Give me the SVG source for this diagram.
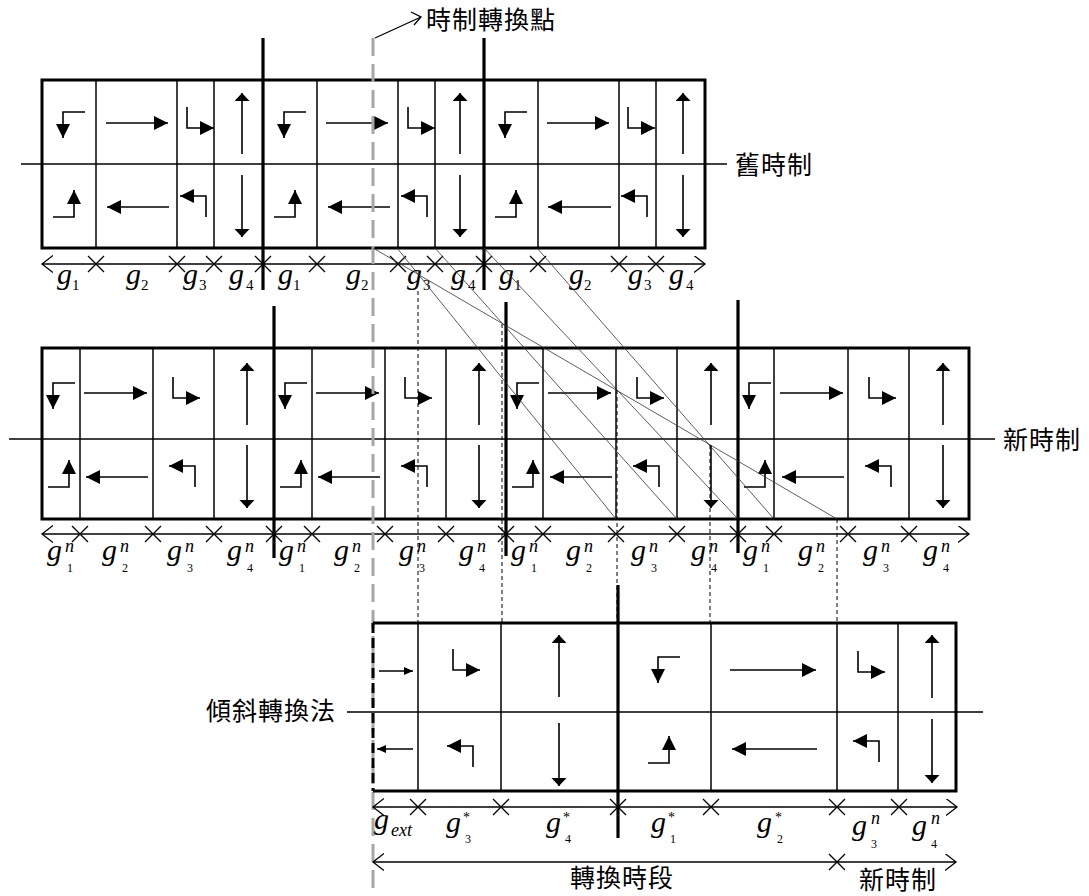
<svg xmlns="http://www.w3.org/2000/svg" width="1089" height="896" viewBox="0 0 1089 896">
<defs>
<style>
.box{fill:none;stroke:#000;stroke-width:3}
.dv{stroke:#000;stroke-width:1.5}
.tk{stroke:#000;stroke-width:3.2}
.mid{stroke:#000;stroke-width:1.3}
.tl{stroke:#000;stroke-width:1.3;fill:none}
.ic{stroke:#000;stroke-width:1.6;fill:none}
.diag{stroke:#333;stroke-width:0.8}
.dsh{stroke:#000;stroke-width:1;stroke-dasharray:4 3}
.grey{stroke:#a6a6a6;stroke-width:3;stroke-dasharray:18 8;fill:none}
.g{font-family:"Liberation Serif",serif;font-style:italic;font-size:30px;fill:#000}
.sub{font-family:"Liberation Serif",serif;font-size:15px;fill:#000}
.sup{font-family:"Liberation Serif",serif;font-style:italic;font-size:18px;fill:#000}
.sm{font-family:"Liberation Serif",serif;font-size:12px;fill:#000}
.st{font-family:"Liberation Serif",serif;font-size:14px;fill:#000}
.cjk{font-family:"Liberation Serif","Noto Sans CJK TC",sans-serif;font-size:25px;fill:#000;letter-spacing:1px}
</style>
<marker id="ah" markerUnits="userSpaceOnUse" markerWidth="16" markerHeight="15" refX="14" refY="7" orient="auto"><path d="M0,0 L14,7 L0,14 z" fill="#000"/></marker>
<marker id="ahf" markerUnits="userSpaceOnUse" markerWidth="10" markerHeight="16" refX="8" refY="7.5" orient="auto"><path d="M0,0 L8,7.5 L0,15 z" fill="#000"/></marker>
<marker id="ahs" markerUnits="userSpaceOnUse" markerWidth="10" markerHeight="9" refX="9" refY="4" orient="auto"><path d="M0,0 L9,4 L0,8 z" fill="#000"/></marker>
<marker id="chev" markerUnits="userSpaceOnUse" markerWidth="13" markerHeight="19" refX="11" refY="8.5" orient="auto-start-reverse"><path d="M0,0 L11,8.5 L0,17" fill="none" stroke="#000" stroke-width="1.3"/></marker>
<path id="xm" d="M-8,-8 L8,8 M-8,8 L8,-8" stroke="#000" stroke-width="1.3"/>
<path id="ltU" class="ic" d="M22,0 H0 V26" marker-end="url(#ah)"/>
<path id="ltL" class="ic" d="M-21,0 H0 V-27" marker-end="url(#ah)"/>
<path id="rtU" class="ic" d="M0,-21 V0 H27" marker-end="url(#ah)"/>
<path id="rtL" class="ic" d="M0,21 V0 H-26" marker-end="url(#ah)"/>
</defs>
<rect width="1089" height="896" fill="#fff"/>

<g id="old-plan">
<line class="mid" x1="21" y1="164" x2="727" y2="164"/>
<rect class="box" x="42" y="80" width="663" height="168"/>
<g class="dv">
<line x1="96" y1="80" x2="96" y2="248"/><line x1="177" y1="80" x2="177" y2="248"/><line x1="214" y1="80" x2="214" y2="248"/>
<line x1="317" y1="80" x2="317" y2="248"/><line x1="398" y1="80" x2="398" y2="248"/><line x1="435" y1="80" x2="435" y2="248"/>
<line x1="538" y1="80" x2="538" y2="248"/><line x1="619" y1="80" x2="619" y2="248"/><line x1="656" y1="80" x2="656" y2="248"/>
</g>
<line class="tk" x1="263" y1="38" x2="263" y2="290"/>
<line class="tk" x1="484" y1="38" x2="484" y2="290"/>
<use href="#ltU" x="63" y="112"/><use href="#ltL" x="74" y="217"/>
<line class="ic" x1="106" y1="123" x2="168" y2="123" marker-end="url(#ah)"/>
<line class="ic" x1="169" y1="207" x2="107" y2="207" marker-end="url(#ah)"/>
<use href="#rtU" x="187" y="128"/><use href="#rtL" x="206" y="196"/>
<line class="ic" x1="242" y1="154" x2="242" y2="93" marker-end="url(#ahf)"/>
<line class="ic" x1="242" y1="175" x2="242" y2="237" marker-end="url(#ahf)"/>
<use href="#ltU" x="284" y="112"/><use href="#ltL" x="295" y="217"/>
<line class="ic" x1="326" y1="123" x2="388" y2="123" marker-end="url(#ah)"/>
<line class="ic" x1="390" y1="207" x2="328" y2="207" marker-end="url(#ah)"/>
<use href="#rtU" x="408" y="128"/><use href="#rtL" x="427" y="196"/>
<line class="ic" x1="460" y1="154" x2="460" y2="93" marker-end="url(#ahf)"/>
<line class="ic" x1="460" y1="175" x2="460" y2="237" marker-end="url(#ahf)"/>
<use href="#ltU" x="505" y="112"/><use href="#ltL" x="516" y="217"/>
<line class="ic" x1="547" y1="123" x2="609" y2="123" marker-end="url(#ah)"/>
<line class="ic" x1="611" y1="207" x2="548" y2="207" marker-end="url(#ah)"/>
<use href="#rtU" x="628" y="128"/><use href="#rtL" x="647" y="196"/>
<line class="ic" x1="683" y1="154" x2="683" y2="93" marker-end="url(#ahf)"/>
<line class="ic" x1="683" y1="175" x2="683" y2="237" marker-end="url(#ahf)"/>
<line class="tl" x1="42" y1="264" x2="705" y2="264" marker-start="url(#chev)" marker-end="url(#chev)"/>
<use href="#xm" x="96" y="264"/><use href="#xm" x="177" y="264"/><use href="#xm" x="214" y="264"/><use href="#xm" x="263" y="264"/>
<use href="#xm" x="317" y="264"/><use href="#xm" x="398" y="264"/><use href="#xm" x="435" y="264"/><use href="#xm" x="484" y="264"/>
<use href="#xm" x="538" y="264"/><use href="#xm" x="619" y="264"/><use href="#xm" x="656" y="264"/>
<text class="g" x="57" y="284">g<tspan class="sub" font-style="normal" dx="0" dy="6">1</tspan></text>
<text class="g" x="126" y="284">g<tspan class="sub" font-style="normal" dx="0" dy="6">2</tspan></text>
<text class="g" x="183" y="284">g<tspan class="sub" font-style="normal" dx="1" dy="6">3</tspan></text>
<text class="g" x="229" y="284">g<tspan class="sub" font-style="normal" dx="2" dy="6">4</tspan></text>
<text class="g" x="278" y="284">g<tspan class="sub" font-style="normal" dx="0" dy="6">1</tspan></text>
<text class="g" x="346" y="284">g<tspan class="sub" font-style="normal" dx="0" dy="6">2</tspan></text>
<text class="g" x="407" y="284">g<tspan class="sub" font-style="normal" dx="1" dy="6">3</tspan></text>
<text class="g" x="451" y="284">g<tspan class="sub" font-style="normal" dx="2" dy="6">4</tspan></text>
<text class="g" x="499" y="284">g<tspan class="sub" font-style="normal" dx="0" dy="6">1</tspan></text>
<text class="g" x="569" y="284">g<tspan class="sub" font-style="normal" dx="0" dy="6">2</tspan></text>
<text class="g" x="628" y="284">g<tspan class="sub" font-style="normal" dx="1" dy="6">3</tspan></text>
<text class="g" x="669" y="284">g<tspan class="sub" font-style="normal" dx="2" dy="6">4</tspan></text>
<text class="cjk" x="735" y="174">舊時制</text>
</g>

<g id="new-plan">
<line class="mid" x1="9" y1="439" x2="995" y2="439"/>
<rect class="box" x="42" y="348" width="927" height="171"/>
<g class="dv">
<line x1="80" y1="348" x2="80" y2="519"/><line x1="153" y1="348" x2="153" y2="519"/><line x1="214" y1="348" x2="214" y2="519"/>
<line x1="312" y1="348" x2="312" y2="519"/><line x1="385" y1="348" x2="385" y2="519"/><line x1="446" y1="348" x2="446" y2="519"/>
<line x1="543" y1="348" x2="543" y2="519"/><line x1="616" y1="348" x2="616" y2="519"/><line x1="677" y1="348" x2="677" y2="519"/>
<line x1="774" y1="348" x2="774" y2="519"/><line x1="848" y1="348" x2="848" y2="519"/><line x1="909" y1="348" x2="909" y2="519"/>
</g>
<line class="tk" x1="274" y1="306" x2="274" y2="558"/>
<line class="tk" x1="506" y1="302" x2="506" y2="556"/>
<line class="tk" x1="738" y1="300" x2="738" y2="553"/>
<use href="#ltU" x="53" y="383"/><use href="#ltL" x="69" y="487"/>
<line class="ic" x1="84" y1="393" x2="147" y2="393" marker-end="url(#ah)"/>
<line class="ic" x1="148" y1="477" x2="86" y2="477" marker-end="url(#ah)"/>
<use href="#rtU" x="173" y="398"/><use href="#rtL" x="195" y="466"/>
<line class="ic" x1="247" y1="425" x2="247" y2="363" marker-end="url(#ahf)"/>
<line class="ic" x1="247" y1="445" x2="247" y2="508" marker-end="url(#ahf)"/>
<use href="#ltU" x="285" y="383"/><use href="#ltL" x="301" y="487"/>
<line class="ic" x1="316" y1="393" x2="379" y2="393" marker-end="url(#ah)"/>
<line class="ic" x1="380" y1="477" x2="318" y2="477" marker-end="url(#ah)"/>
<use href="#rtU" x="405" y="398"/><use href="#rtL" x="427" y="466"/>
<line class="ic" x1="479" y1="425" x2="479" y2="363" marker-end="url(#ahf)"/>
<line class="ic" x1="479" y1="445" x2="479" y2="508" marker-end="url(#ahf)"/>
<use href="#ltU" x="517" y="383"/><use href="#ltL" x="533" y="487"/>
<line class="ic" x1="548" y1="393" x2="611" y2="393" marker-end="url(#ah)"/>
<line class="ic" x1="612" y1="477" x2="550" y2="477" marker-end="url(#ah)"/>
<use href="#rtU" x="637" y="398"/><use href="#rtL" x="659" y="466"/>
<line class="ic" x1="711" y1="425" x2="711" y2="363" marker-end="url(#ahf)"/>
<line class="ic" x1="711" y1="445" x2="711" y2="508" marker-end="url(#ahf)"/>
<use href="#ltU" x="749" y="383"/><use href="#ltL" x="765" y="487"/>
<line class="ic" x1="780" y1="393" x2="843" y2="393" marker-end="url(#ah)"/>
<line class="ic" x1="844" y1="477" x2="782" y2="477" marker-end="url(#ah)"/>
<use href="#rtU" x="869" y="398"/><use href="#rtL" x="891" y="466"/>
<line class="ic" x1="943" y1="425" x2="943" y2="363" marker-end="url(#ahf)"/>
<line class="ic" x1="943" y1="445" x2="943" y2="508" marker-end="url(#ahf)"/>
<line class="tl" x1="42" y1="534" x2="969" y2="534" marker-start="url(#chev)" marker-end="url(#chev)"/>
<use href="#xm" x="80" y="534"/><use href="#xm" x="153" y="534"/><use href="#xm" x="214" y="534"/><use href="#xm" x="274" y="534"/>
<use href="#xm" x="312" y="534"/><use href="#xm" x="385" y="534"/><use href="#xm" x="446" y="534"/><use href="#xm" x="506" y="534"/>
<use href="#xm" x="543" y="534"/><use href="#xm" x="616" y="534"/><use href="#xm" x="677" y="534"/><use href="#xm" x="738" y="534"/>
<use href="#xm" x="774" y="534"/><use href="#xm" x="848" y="534"/><use href="#xm" x="909" y="534"/>
<g>
<text class="g" x="47" y="560">g</text><text class="sup" x="65" y="552">n</text><text class="sm" x="67" y="572">1</text>
<text class="g" x="102" y="560">g</text><text class="sup" x="120" y="552">n</text><text class="sm" x="122" y="572">2</text>
<text class="g" x="167" y="560">g</text><text class="sup" x="185" y="552">n</text><text class="sm" x="187" y="572">3</text>
<text class="g" x="227" y="560">g</text><text class="sup" x="245" y="552">n</text><text class="sm" x="247" y="572">4</text>
<text class="g" x="279" y="560">g</text><text class="sup" x="297" y="552">n</text><text class="sm" x="299" y="572">1</text>
<text class="g" x="334" y="560">g</text><text class="sup" x="352" y="552">n</text><text class="sm" x="354" y="572">2</text>
<text class="g" x="399" y="560">g</text><text class="sup" x="417" y="552">n</text><text class="sm" x="419" y="572">3</text>
<text class="g" x="459" y="560">g</text><text class="sup" x="477" y="552">n</text><text class="sm" x="479" y="572">4</text>
<text class="g" x="511" y="560">g</text><text class="sup" x="529" y="552">n</text><text class="sm" x="531" y="572">1</text>
<text class="g" x="566" y="560">g</text><text class="sup" x="584" y="552">n</text><text class="sm" x="586" y="572">2</text>
<text class="g" x="631" y="560">g</text><text class="sup" x="649" y="552">n</text><text class="sm" x="651" y="572">3</text>
<text class="g" x="691" y="560">g</text><text class="sup" x="709" y="552">n</text><text class="sm" x="711" y="572">4</text>
<text class="g" x="743" y="560">g</text><text class="sup" x="761" y="552">n</text><text class="sm" x="763" y="572">1</text>
<text class="g" x="798" y="560">g</text><text class="sup" x="816" y="552">n</text><text class="sm" x="818" y="572">2</text>
<text class="g" x="863" y="560">g</text><text class="sup" x="881" y="552">n</text><text class="sm" x="883" y="572">3</text>
<text class="g" x="923" y="560">g</text><text class="sup" x="941" y="552">n</text><text class="sm" x="943" y="572">4</text>
</g>
<text class="cjk" x="1003" y="449">新時制</text>
</g>

<g id="switch-point">
<line class="grey" x1="373" y1="38" x2="373" y2="892"/>
<path d="M375,38 L421,17" stroke="#000" stroke-width="1.3" fill="none"/>
<path d="M411,12 L421,17 L414,25" stroke="#000" stroke-width="1.3" fill="none"/>
<text class="cjk" x="426" y="29">時制轉換點</text>
</g>

<g id="transition-plan">
<line class="mid" x1="347" y1="712" x2="983" y2="712"/>
<path d="M373,623 H956 V791 H373" fill="none" stroke="#000" stroke-width="3"/>
<line x1="373" y1="623" x2="373" y2="791" stroke="#000" stroke-width="3" stroke-dasharray="10 5"/>
<g class="dv">
<line x1="418" y1="623" x2="418" y2="791"/><line x1="501" y1="623" x2="501" y2="791"/>
<line x1="711" y1="623" x2="711" y2="791"/><line x1="837" y1="623" x2="837" y2="791"/><line x1="898" y1="623" x2="898" y2="791"/>
</g>
<line class="tk" x1="618" y1="585" x2="618" y2="838"/>
<line class="ic" x1="379" y1="671" x2="413" y2="671" marker-end="url(#ahs)"/>
<line class="ic" x1="413" y1="749" x2="377" y2="749" marker-end="url(#ahs)"/>
<use href="#rtU" x="453" y="670"/><use href="#rtL" x="473" y="746"/>
<line class="ic" x1="559" y1="697" x2="559" y2="635" marker-end="url(#ahf)"/>
<line class="ic" x1="559" y1="723" x2="559" y2="786" marker-end="url(#ahf)"/>
<use href="#ltU" x="658" y="657"/><use href="#ltL" x="669" y="763"/>
<line class="ic" x1="730" y1="670" x2="816" y2="670" marker-end="url(#ah)"/>
<line class="ic" x1="817" y1="749" x2="732" y2="749" marker-end="url(#ah)"/>
<use href="#rtU" x="858" y="672"/><use href="#rtL" x="879" y="741"/>
<line class="ic" x1="932" y1="698" x2="932" y2="635" marker-end="url(#ahf)"/>
<line class="ic" x1="932" y1="719" x2="932" y2="783" marker-end="url(#ahf)"/>
<line class="tl" x1="373" y1="807" x2="957" y2="807" marker-start="url(#chev)" marker-end="url(#chev)"/>
<use href="#xm" x="418" y="807"/><use href="#xm" x="501" y="807"/><use href="#xm" x="618" y="807"/>
<use href="#xm" x="711" y="807"/><use href="#xm" x="837" y="807"/><use href="#xm" x="899" y="807"/>
<line class="tl" x1="373" y1="862" x2="956" y2="862" marker-start="url(#chev)" marker-end="url(#chev)"/>
<use href="#xm" x="837" y="862"/>
<text class="g" x="374" y="829">g</text><text class="sup" x="391" y="836" font-size="19">ext</text>
<text class="g" x="446" y="832">g</text><text class="st" x="463" y="822">*</text><text class="sm" x="465" y="843">3</text>
<text class="g" x="546" y="832">g</text><text class="st" x="563" y="822">*</text><text class="sm" x="565" y="843">4</text>
<text class="g" x="651" y="832">g</text><text class="st" x="668" y="822">*</text><text class="sm" x="670" y="843">1</text>
<text class="g" x="757" y="832">g</text><text class="st" x="775" y="822">*</text><text class="sm" x="777" y="843">2</text>
<text class="g" x="852" y="835">g</text><text class="sup" x="871" y="824">n</text><text class="sm" x="871" y="848">3</text>
<text class="g" x="912" y="835">g</text><text class="sup" x="931" y="824">n</text><text class="sm" x="931" y="848">4</text>
<text class="cjk" x="206" y="720">傾斜轉換法</text>
<text class="cjk" x="570" y="887">轉換時段</text>
<text class="cjk" x="859" y="889">新時制</text>
</g>

<g id="connectors">
<line class="diag" x1="373" y1="248" x2="837" y2="519"/>
<line class="diag" x1="397" y1="248" x2="616" y2="519"/>
<line class="diag" x1="435" y1="248" x2="677" y2="519"/>
<line class="diag" x1="484" y1="248" x2="738" y2="519"/>
<line class="diag" x1="537" y1="248" x2="774" y2="519"/>
<line class="dsh" x1="418" y1="291" x2="418" y2="623"/>
<line class="dsh" x1="502" y1="324" x2="502" y2="623"/>
<line class="dsh" x1="617" y1="390" x2="617" y2="623"/>
<line class="dsh" x1="710" y1="445" x2="710" y2="623"/>
<line class="dsh" x1="837" y1="519" x2="837" y2="623"/>
</g>
</svg>
